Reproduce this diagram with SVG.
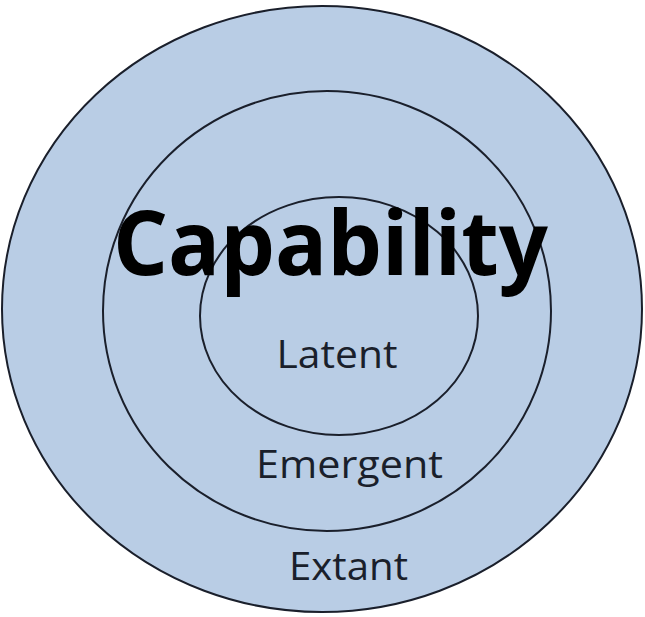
<svg xmlns="http://www.w3.org/2000/svg" width="645" height="617" viewBox="0 0 645 617">
<style>
.ring{fill:#b9cde5;stroke:#1a1f2b;stroke-width:2}
.lbl{font-family:"Open Sans","Noto Sans",sans-serif;fill:#1a1f2b;text-anchor:middle;font-size:39px}
.title{font-family:"Open Sans","Noto Sans",sans-serif;font-weight:bold;fill:#000;font-size:90px}
</style>
<rect width="645" height="617" fill="#ffffff"/>
<g id="extant"><ellipse class="ring" cx="322" cy="309" rx="320" ry="303"/></g>
<g id="emergent"><ellipse class="ring" cx="327" cy="311" rx="224" ry="220"/></g>
<g id="latent"><ellipse class="ring" cx="339" cy="316" rx="139" ry="119"/></g>
<g id="connectors"></g>
<text class="title" x="113" y="275" textLength="435" lengthAdjust="spacingAndGlyphs">Capability</text>
<text class="lbl" x="337" y="368" textLength="121" lengthAdjust="spacingAndGlyphs">Latent</text>
<text class="lbl" x="349.5" y="478" textLength="187" lengthAdjust="spacingAndGlyphs">Emergent</text>
<text class="lbl" x="348.5" y="580" textLength="119" lengthAdjust="spacingAndGlyphs">Extant</text>
</svg>
